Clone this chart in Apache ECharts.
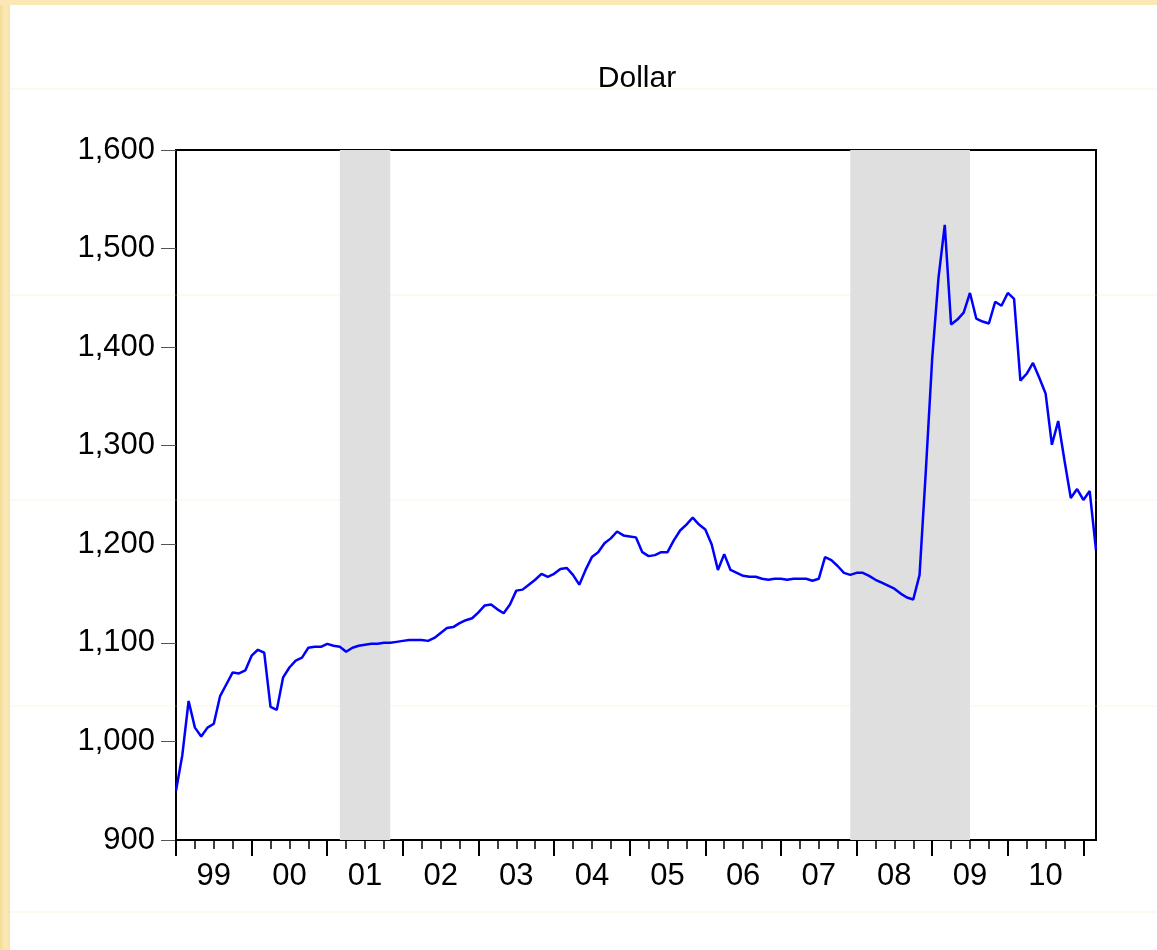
<!DOCTYPE html>
<html>
<head>
<meta charset="utf-8">
<script src="https://cdn.jsdelivr.net/npm/echarts@6/dist/echarts.min.js"></script>
<style>
  html, body { margin: 0; padding: 0; background: #ffffff; }
  #chart { width: 1157px; height: 950px; }
</style>
</head>
<body>
<div id="chart"></div>
<script>
// ---- Data ----
const titleText = "Dollar";
const startYear = 1999;
const startMonth = 1;
// monthly values, Jan 1999 - Mar 2011
const dollarValues = [
  950, 986, 1041, 1014, 1005, 1014, 1018, 1046, 1058, 1070, 1069, 1072,   // 1999
  1087, 1093, 1090, 1035, 1032, 1065, 1075, 1082, 1085, 1095, 1096, 1096, // 2000
  1099, 1097, 1096, 1091, 1095, 1097, 1098, 1099, 1099, 1100, 1100, 1101, // 2001
  1102, 1103, 1103, 1103, 1102, 1105, 1110, 1115, 1116, 1120, 1123, 1125, // 2002
  1131, 1138, 1139, 1134, 1130, 1139, 1153, 1154, 1159, 1164, 1170, 1167, // 2003
  1170, 1175, 1176, 1169, 1159, 1174, 1187, 1192, 1201, 1206, 1213, 1209, // 2004
  1208, 1207, 1192, 1188, 1189, 1192, 1192, 1204, 1214, 1220, 1227, 1220, // 2005
  1215, 1200, 1174, 1190, 1174, 1171, 1168, 1167, 1167, 1165, 1164, 1165, // 2006
  1165, 1164, 1165, 1165, 1165, 1163, 1165, 1187, 1184, 1178, 1171, 1169, // 2007
  1171, 1171, 1168, 1164, 1161, 1158, 1155, 1150, 1146, 1144, 1169, 1275, // 2008
  1388, 1470, 1524, 1423, 1428, 1435, 1455, 1429, 1426, 1424, 1446, 1442, // 2009
  1455, 1449, 1366, 1373, 1384, 1369, 1353, 1301, 1325, 1285, 1247, 1256, // 2010
  1245, 1254, 1194                                                        // 2011
];
// shaded periods (recessions)
const shadedPeriods = [
  ["2001-03", "2001-11"],
  ["2007-12", "2009-07"]
];
const yMin = 900, yMax = 1600, yStep = 100;

// ---- Build categories (month labels) ----
const categories = [];
for (let i = 0; i < dollarValues.length; i++) {
  const m0 = startMonth - 1 + i;
  const y = startYear + Math.floor(m0 / 12);
  const m = (m0 % 12) + 1;
  categories.push(y + "-" + (m < 10 ? "0" + m : "" + m));
}

function fmtThousands(v) {
  const s = String(Math.round(v));
  return s.replace(/\B(?=(\d{3})+(?!\d))/g, ",");
}

const FONT = "'Liberation Sans', Arial, sans-serif";
const chart = echarts.init(document.getElementById('chart'), null, { renderer: 'canvas' });

const faintLines = [89, 295, 500, 706, 912].map(y => ({
  type: 'line', silent: true, z: 1,
  shape: { x1: 10, y1: y, x2: 1157, y2: y },
  style: { stroke: 'rgba(235,215,160,0.3)', lineWidth: 1 }
}));

const option = {
  backgroundColor: '#ffffff',
  animation: false,
  title: {
    text: titleText,
    left: 632,
    top: 59,
    textAlign: 'center',
    textStyle: { fontFamily: FONT, fontSize: 30, fontWeight: 'normal', color: '#000' }
  },
  graphic: [
    { type: 'rect', silent: true, z: 0, shape: { x: 0, y: 0, width: 10, height: 950 },
      style: { fill: new echarts.graphic.LinearGradient(0, 0, 1, 0, [
        { offset: 0, color: '#f3dc98' }, { offset: 0.5, color: '#fbe9b6' }, { offset: 1, color: '#f8e3a8' }]) } },
    { type: 'rect', silent: true, z: 0, shape: { x: 0, y: 0, width: 1157, height: 5 },
      style: { fill: '#fbe8b4' } }
  ].concat(faintLines),
  grid: {
    left: 176, top: 150, width: 920, height: 690,
    show: true, borderColor: '#000', borderWidth: 2, backgroundColor: 'transparent'
  },
  xAxis: [
    {
      type: 'category',
      data: categories,
      boundaryGap: false,
      position: 'bottom',
      axisLine: { show: true, lineStyle: { color: '#000', width: 2 } },
      axisTick: {
        show: true, length: 16,
        interval: (idx) => idx % 12 === 0,
        lineStyle: { color: '#000', width: 2 }
      },
      axisLabel: {
        show: true, margin: 21,
        interval: (idx) => idx % 12 === 6,
        formatter: (v) => v.substr(2, 2),
        fontFamily: FONT, fontSize: 31, color: '#000'
      },
      splitLine: { show: false }
    },
    {
      type: 'category',
      data: categories,
      boundaryGap: false,
      position: 'bottom',
      axisLine: { show: false },
      axisTick: {
        show: true, length: 9,
        interval: (idx) => idx % 3 === 0 && idx % 12 !== 0,
        lineStyle: { color: '#000', width: 1.5 }
      },
      axisLabel: { show: false },
      splitLine: { show: false }
    }
  ],
  yAxis: {
    type: 'value',
    min: yMin, max: yMax, interval: yStep,
    axisLine: { show: true, lineStyle: { color: '#000', width: 2 } },
    axisTick: { show: true, length: 15, lineStyle: { color: '#555', width: 1 } },
    axisLabel: {
      margin: 21,
      formatter: fmtThousands,
      fontFamily: FONT, fontSize: 31, color: '#000'
    },
    splitLine: { show: false }
  },
  series: [{
    type: 'line',
    data: dollarValues,
    xAxisIndex: 0,
    showSymbol: false,
    symbol: 'none',
    lineStyle: { color: '#0000ff', width: 2.5 },
    z: 5,
    markArea: {
      silent: true,
      itemStyle: { color: '#dfdfdf' },
      data: shadedPeriods.map(p => [{ xAxis: p[0] }, { xAxis: p[1] }])
    }
  }]
};
chart.setOption(option);
</script>
</body>
</html>
